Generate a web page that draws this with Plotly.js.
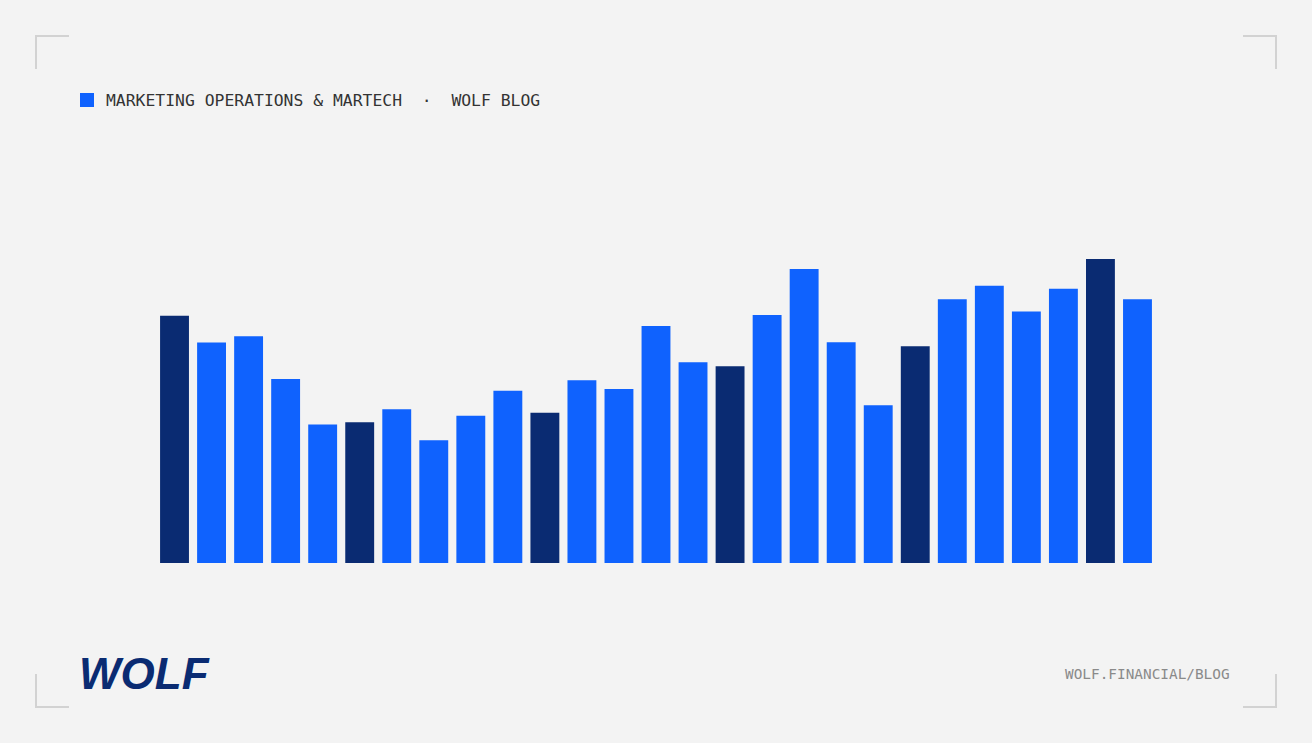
<!DOCTYPE html>
<html>
<head>
<meta charset="utf-8">
<script src="https://cdn.plot.ly/plotly-3.0.1.min.js"></script>
<style>
  html, body { margin: 0; padding: 0; background: #f3f3f3; }
  #chart { width: 1312px; height: 743px; }
</style>
</head>
<body>
<div id="chart"></div>
<script>
// Bar series (relative index, tallest bar = 100).
const periods = ["1","2","3","4","5","6","7","8","9","10","11","12","13","14",
                 "15","16","17","18","19","20","21","22","23","24","25","26","27"];
const values = [81.3, 72.5, 74.6, 60.5, 45.6, 46.3, 50.6, 40.4, 48.4, 56.7, 49.4, 60.1, 57.2, 78.0,
                66.0, 64.7, 81.6, 96.7, 72.6, 51.9, 71.3, 86.8, 91.2, 82.7, 90.2, 100.0, 86.8];

const headerText = "MARKETING OPERATIONS & MARTECH  \u00b7  WOLF BLOG";
const footerText = "WOLF.FINANCIAL/BLOG";
const logoText = "WOLF";

const W = 1312, H = 743;
const margin = {l: 156, r: 156, t: 200, b: 180, pad: 0};
const plotW = W - margin.l - margin.r;
const plotH = H - margin.t - margin.b;

// Convert page pixels to paper coordinates (decorations only).
function px(x) { return (x - margin.l) / plotW; }
function py(y) { return (H - margin.b - y) / plotH; }

// Every fifth bar is drawn in dark navy.
const colors = values.map((v, i) => i % 5 === 0 ? "#0a2b72" : "#0f62fe");

const data = [{
  type: "bar",
  x: periods,
  y: values,
  marker: {color: colors, line: {width: 0}},
  hoverinfo: "skip"
}];

function line(x0, y0, x1, y1) {
  return {type: "line", xref: "paper", yref: "paper",
          x0: px(x0), y0: py(y0), x1: px(x1), y1: py(y1),
          line: {color: "#d2d2d2", width: 2}};
}

const shapes = [
  // corner brackets
  line(35, 36, 69, 36), line(36, 35, 36, 69),
  line(1243, 36, 1277, 36), line(1276, 35, 1276, 69),
  line(36, 674, 36, 707), line(35, 707, 69, 707),
  line(1276, 674, 1276, 707), line(1243, 707, 1277, 707),
  // header marker
  {type: "rect", xref: "paper", yref: "paper",
   x0: px(80), x1: px(94), y0: py(107), y1: py(93),
   fillcolor: "#0f62fe", line: {width: 0}}
];

const annotations = [
  {text: headerText, xref: "paper", yref: "paper", x: px(104), y: py(100),
   xanchor: "left", yanchor: "middle", showarrow: false,
   font: {family: "DejaVu Sans Mono, Liberation Mono, monospace", size: 16.4, color: "#333333"}},
  {text: footerText, xref: "paper", yref: "paper", x: px(1232), y: py(674),
   xanchor: "right", yanchor: "middle", showarrow: false,
   font: {family: "DejaVu Sans Mono, Liberation Mono, monospace", size: 14.4, color: "#8a8a8a"}},
  {text: "<b><i>" + logoText + "</i></b>", xref: "paper", yref: "paper", x: px(77), y: py(673),
   xanchor: "left", yanchor: "middle", showarrow: false,
   font: {family: "Liberation Sans, Arial, sans-serif", size: 44, color: "#0a2b72"}}
];

const layout = {
  width: W,
  height: H,
  margin: margin,
  paper_bgcolor: "#f3f3f3",
  plot_bgcolor: "#f3f3f3",
  showlegend: false,
  bargap: 0.22,
  xaxis: {visible: false, type: "category", range: [-0.5, periods.length - 0.5], fixedrange: true},
  yaxis: {visible: false, range: [0, plotH / 3.04], fixedrange: true},
  shapes: shapes,
  annotations: annotations
};

Plotly.newPlot("chart", data, layout, {displayModeBar: false, staticPlot: true});
</script>
</body>
</html>
